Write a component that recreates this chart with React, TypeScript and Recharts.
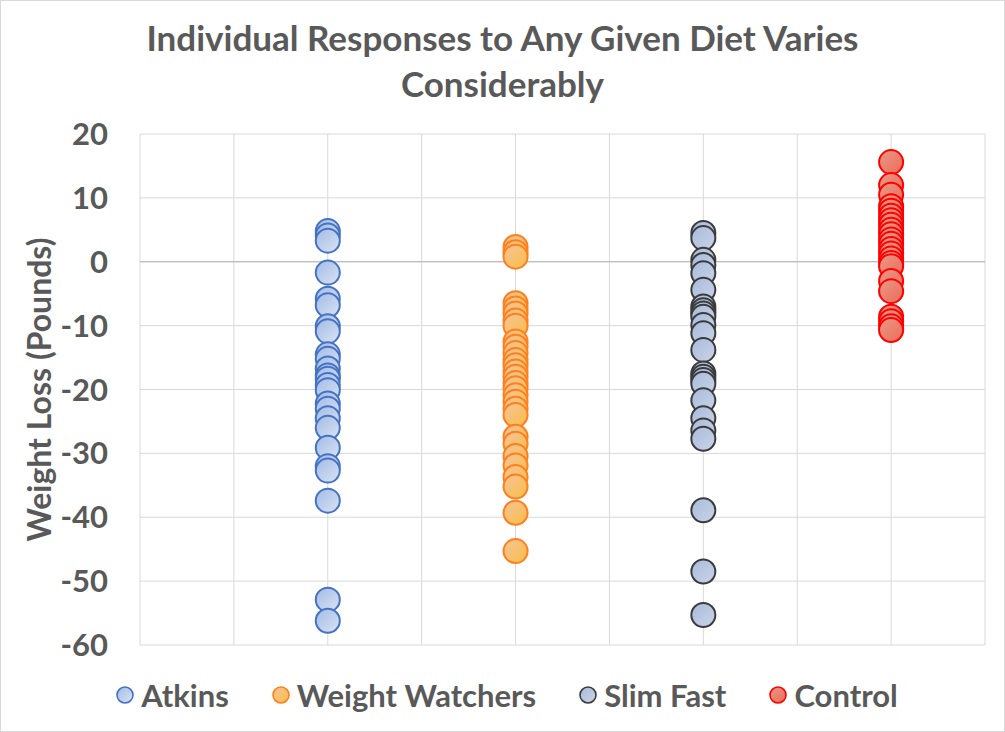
import React from 'react';
import {
  ScatterChart,
  Scatter,
  XAxis,
  YAxis,
  CartesianGrid,
  ReferenceLine,
  Legend,
} from 'recharts';

// weight loss (pounds) per person
const atkins = [
  4.8, 4.1, 3.3, -1.7, -5.8, -6.8, -10.1, -10.9, -14.5, -15.2, -16.7, -17.8, -18.3,
  -19.3, -20.1, -22.2, -23.0, -24.5, -26.0, -29.1, -32.0, -32.7, -37.4, -52.9, -56.2,
];
const weightWatchers = [
  2.3, 1.5, 0.8, -6.5, -7.3, -8.1, -9.2, -10.0, -12.5, -13.3, -14.3, -15.4, -16.2,
  -17.2, -18.0, -19.0, -19.8, -20.9, -21.9, -23.0, -24.0, -27.4, -28.5, -30.4, -31.9,
  -33.7, -35.2, -39.3, -45.3,
];
const slimFast = [
  4.5, 3.7, 0.3, -0.5, -1.8, -4.4, -7.0, -7.6, -8.1, -8.6, -9.9, -11.2, -13.8, -17.5,
  -18.0, -18.5, -19.1, -21.7, -24.5, -26.4, -27.7, -38.9, -48.5, -55.3,
];
const control = [
  15.6, 12.0, 10.5, 8.7, 8.0, 7.2, 6.5, 5.8, 5.0, 4.3, 3.5, 2.8, 2.0, 1.3, 0.5, -0.2,
  -0.7, -3.0, -4.6, -8.6, -9.3, -10.1, -10.7,
];

const seriesNames = ['Atkins', 'Weight Watchers', 'Slim Fast', 'Control'];
const yTicks = [-60, -50, -40, -30, -20, -10, 0, 10, 20];
const xTicks = [0, 0.5, 1, 1.5, 2, 2.5, 3, 3.5, 4, 4.5];

const series = [
  { name: seriesNames[0], x: 1, values: atkins, stroke: '#4472c4', from: '#a2bbe5', to: '#dbe4f4', id: 'gAtk' },
  { name: seriesNames[1], x: 2, values: weightWatchers, stroke: '#ff7f1e', from: '#f5c49a', to: '#fbbd45', id: 'gWW' },
  { name: seriesNames[2], x: 3, values: slimFast, stroke: '#3b3b3b', from: '#a7bbdd', to: '#cbd4e6', id: 'gSF' },
  { name: seriesNames[3], x: 4, values: control, stroke: '#ff0000', from: '#e89a88', to: '#ee6a58', id: 'gCtl' },
];

const font = "Lato, 'Open Sans', sans-serif";
const textColor = '#595959';

const Dot = (props: any) => {
  const { cx, cy, stroke, fill } = props;
  if (cx == null || cy == null) return null;
  return <circle cx={cx} cy={cy} r={12} fill={fill} stroke={stroke} strokeWidth={2} />;
};

const NoTick = () => <g />;

const LegendContent = () => (
  <div
    style={{
      display: 'flex',
      justifyContent: 'center',
      alignItems: 'center',
      height: 40,
      paddingLeft: 28,
      fontFamily: font,
      fontWeight: 700,
      fontSize: 31,
      color: textColor,
    }}
  >
    {series.map((s) => (
      <div key={s.name} style={{ display: 'flex', alignItems: 'center', margin: '0 21px' }}>
        <svg width={20} height={20} style={{ marginRight: 6 }}>
          <circle cx={10} cy={10} r={8} fill={`url(#${s.id})`} stroke={s.stroke} strokeWidth={1.6} />
        </svg>
        <span>{s.name}</span>
      </div>
    ))}
  </div>
);

const App = () => {
  return (
    <div style={{ position: 'absolute', left: 0, top: 0, width: 1005, height: 732, background: '#fff' }}>
      <div
        style={{
          position: 'absolute',
          top: 14,
          left: 0,
          width: 1005,
          textAlign: 'center',
          fontFamily: font,
          fontWeight: 700,
          fontSize: 35,
          lineHeight: '46px',
          color: textColor,
        }}
      >
        Individual Responses to Any Given Diet Varies
        <br />
        Considerably
      </div>
      <ScatterChart width={1005} height={732} margin={{ top: 134, right: 20, bottom: 46, left: 0 }}>
        <defs>
          {series.map((s) => (
            <linearGradient key={s.id} id={s.id} x1="0" y1="0" x2="1" y2="1">
              <stop offset="0%" stopColor={s.from} />
              <stop offset="100%" stopColor={s.to} />
            </linearGradient>
          ))}
        </defs>
        <CartesianGrid stroke="#d9d9d9" />
        <XAxis
          type="number"
          dataKey="x"
          domain={[0, 4.5]}
          ticks={xTicks}
          tick={NoTick}
          axisLine={false}
          tickLine={false}
          height={1}
        />
        <YAxis
          type="number"
          dataKey="y"
          domain={[-60, 20]}
          ticks={yTicks}
          width={140}
          axisLine={false}
          tickLine={false}
          tickSize={0}
          tickMargin={32}
          tick={{ fill: textColor, fontSize: 31, fontWeight: 700, fontFamily: font }}
          label={{
            value: 'Weight Loss (Pounds)',
            angle: -90,
            position: 'insideLeft',
            offset: 40,
            style: { textAnchor: 'middle', fill: textColor, fontSize: 32, fontWeight: 700, fontFamily: font },
          }}
        />
        <ReferenceLine y={0} stroke="#b3b3b3" strokeWidth={1.2} />
        {series.map((s) => (
          <Scatter
            key={s.name}
            name={s.name}
            data={s.values.map((v) => ({ x: s.x, y: v }))}
            fill={`url(#${s.id})`}
            stroke={s.stroke}
            shape={Dot}
            isAnimationActive={false}
          />
        ))}
        <Legend verticalAlign="bottom" content={LegendContent} wrapperStyle={{ bottom: 17 }} />
      </ScatterChart>
      <div
        style={{
          position: 'absolute',
          left: 0,
          top: 0,
          width: 1005,
          height: 732,
          boxSizing: 'border-box',
          border: '1px solid #d9d9d9',
          pointerEvents: 'none',
        }}
      />
    </div>
  );
};

export default App;
